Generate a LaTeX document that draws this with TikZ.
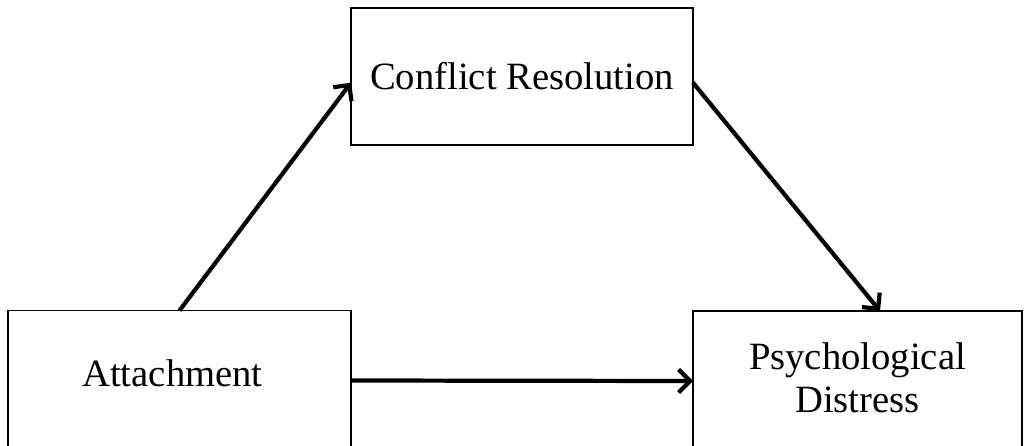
\documentclass[tikz,border=0pt]{standalone}
\usepackage{fontspec}
\setmainfont{Liberation Serif}
\usepackage{tikz}
\usetikzlibrary{arrows.meta}
\tikzset{
  varbox/.style={draw, line width=0.7pt, inner sep=0pt, outer sep=0pt, align=center,
    font=\fontsize{22}{24.5}\selectfont},
  link/.style={line width=2.4pt, -{Straight Barb[length=6.5pt,width=13pt]}}
}
\begin{document}
\begin{tikzpicture}[x=0.02cm, y=-0.02cm]
            \useasboundingbox (0,0) rectangle (1024,446);
            \clip (0,0) rectangle (1024,446);
            % boxes
            \node[varbox, minimum width=6.84cm, minimum height=2.74cm] (conf) at (522,76.5) {Conflict Resolution};
            \node[varbox, minimum width=6.86cm, minimum height=2.8cm] (att) at (179.5,380.5) {Attachment\hspace{0.28cm}\rule[-0.28cm]{0pt}{0pt}};
            \node[varbox, minimum width=6.58cm, minimum height=2.8cm] (dis) at (857.5,381) {Psychological\\Distress\rule[-0.12cm]{0pt}{0pt}};
            % connectors
            \draw[link] (att.north) -- ([yshift=-3.5pt]conf.west);
            \draw[link] ([yshift=-3.5pt]conf.east) -- ([xshift=0.45cm]dis.north);
            \draw[link] (att.east) -- (dis.west);
        \end{tikzpicture}
\end{document}
